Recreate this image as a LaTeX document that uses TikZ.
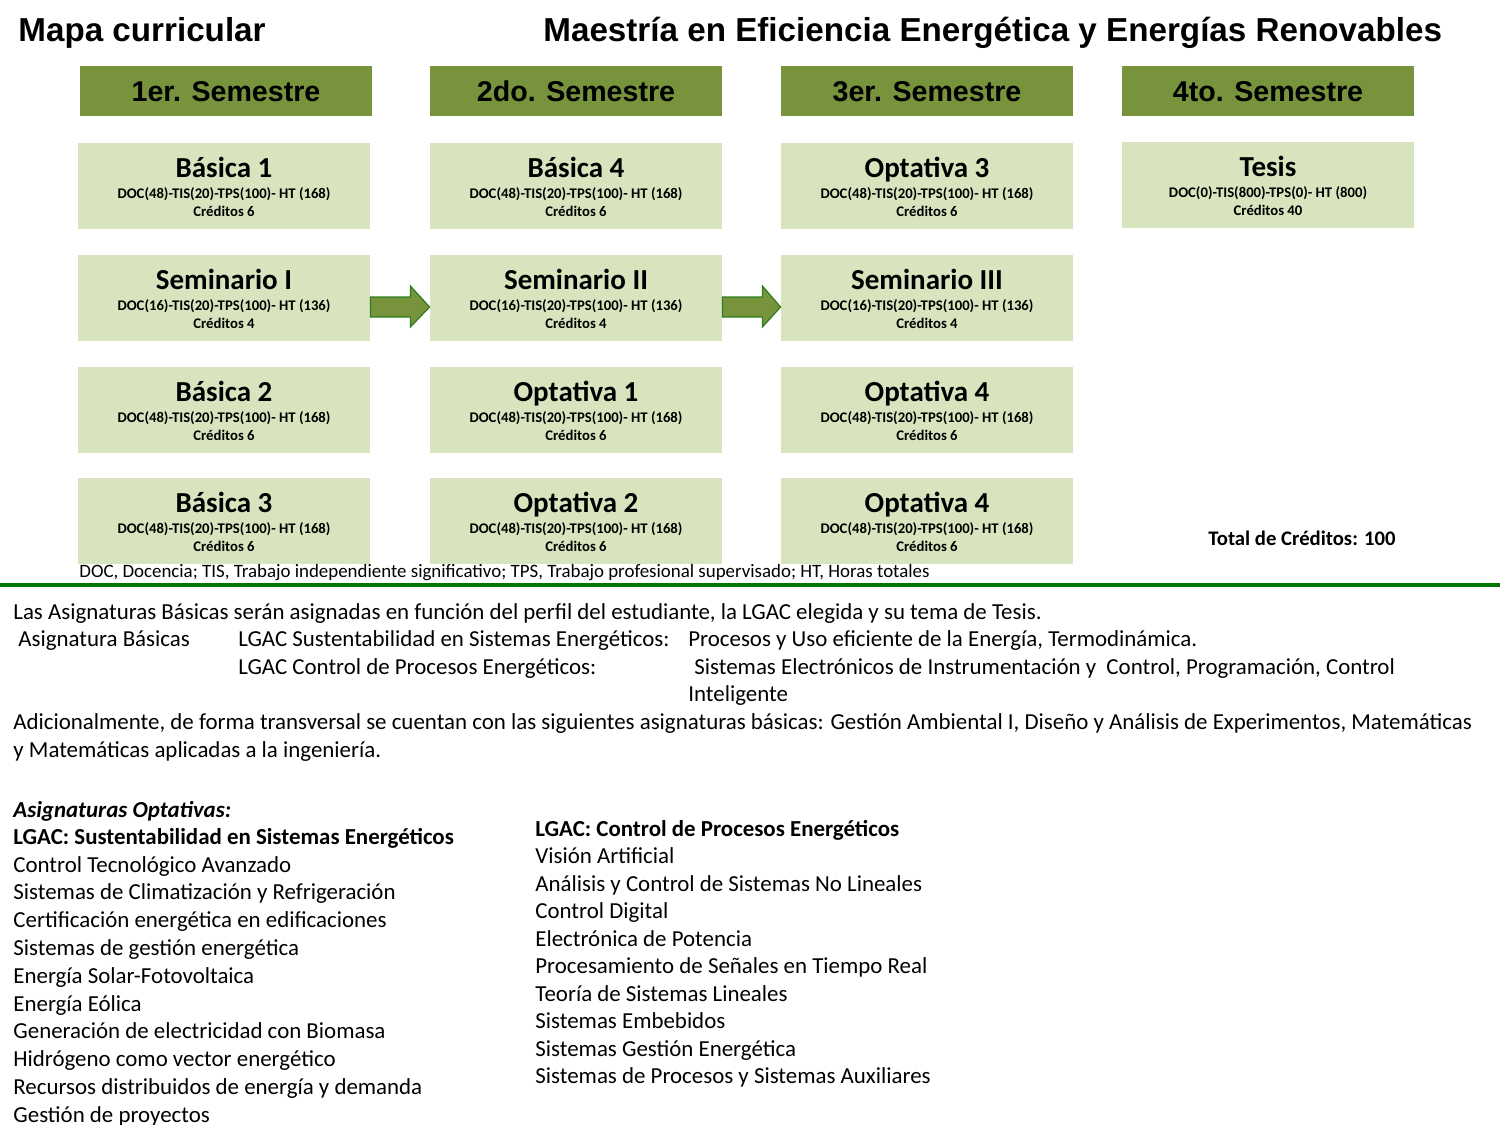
\documentclass[tikz,border=0pt]{standalone}
\usepackage{fontspec}
\setmainfont{Carlito}
\newfontfamily\arialfont{Liberation Sans}
\usepackage{tikz}
\usetikzlibrary{calc}
\usepackage{xcolor}

\definecolor{verdeolivo}{RGB}{119,147,60}
\definecolor{verdeclaro}{RGB}{215,228,189}
\definecolor{verdeborde}{RGB}{46,125,30}
\definecolor{verdelinea}{RGB}{0,118,0}

\tikzset{
  encabezado/.style={fill=verdeolivo, inner sep=0pt, minimum width=146pt, minimum height=25pt,
    text height=10pt, text depth=0pt, font=\arialfont\bfseries\fontsize{14.3pt}{16pt}\selectfont},
  cursobox/.style={fill=verdeclaro, inner sep=0pt, minimum width=146pt, minimum height=43pt},
  cursotitulo/.style={anchor=base, inner sep=0pt, font=\bfseries\fontsize{14.5pt}{16pt}\selectfont},
  cursohoras/.style={anchor=base, inner sep=0pt, font=\bfseries\fontsize{7.35pt}{8.5pt}\selectfont},
  texto/.style={anchor=base west, inner sep=0pt, font=\fontsize{11.45pt}{13.5pt}\selectfont},
  negrita/.style={texto, font=\bfseries\fontsize{11.45pt}{13.5pt}\selectfont},
  titulo/.style={anchor=base west, inner sep=0pt, font=\arialfont\bfseries\fontsize{16.6pt}{19pt}\selectfont},
  flecha/.style={fill=verdeolivo, draw=verdeborde, line width=0.6pt, line join=miter}
}

% name, center, title, hours, credits
\newcommand{\curso}[5]{%
  \node[cursobox] (#1) at (#2) {};
  \node[cursotitulo] (#1-t) at ($(#1.north)+(0,35)$) {#3};
  \node[cursohoras] (#1-h) at ($(#1.north)+(0,56)$) {#4};
  \node[cursohoras] (#1-c) at ($(#1.north)+(0,74)$) {Créditos #5};
}

\begin{document}
\begin{tikzpicture}[x=0.5pt,y=0.5pt,yscale=-1,xscale=1]
\useasboundingbox (0,0) rectangle (1500,1125);

% Titles
\node[titulo] (mapa) at (18,41.7) {Mapa curricular};
\node[titulo] (maestria) at (543,41.7) {Maestría en Eficiencia Energética y Energías Renovables};

% Semester headers
\node[encabezado] (sem1) at (226,91) {1er. Semestre};
\node[encabezado] (sem2) at (576,91) {2do. Semestre};
\node[encabezado] (sem3) at (927,91) {3er. Semestre};
\node[encabezado] (sem4) at (1268,91) {4to. Semestre};

% 1er. Semestre
\curso{b1}{224,186}{Básica 1}{DOC(48)-TIS(20)-TPS(100)- HT (168)}{6}
\curso{s1}{224,298}{Seminario I}{DOC(16)-TIS(20)-TPS(100)- HT (136)}{4}
\curso{b2}{224,410}{Básica 2}{DOC(48)-TIS(20)-TPS(100)- HT (168)}{6}
\curso{b3}{224,520.5}{Básica 3}{DOC(48)-TIS(20)-TPS(100)- HT (168)}{6}
% 2do. Semestre
\curso{b4}{576,186}{Básica 4}{DOC(48)-TIS(20)-TPS(100)- HT (168)}{6}
\curso{s2}{576,298}{Seminario II}{DOC(16)-TIS(20)-TPS(100)- HT (136)}{4}
\curso{o1}{576,410}{Optativa 1}{DOC(48)-TIS(20)-TPS(100)- HT (168)}{6}
\curso{o2}{576,520.5}{Optativa 2}{DOC(48)-TIS(20)-TPS(100)- HT (168)}{6}
% 3er. Semestre
\curso{o3}{927,186}{Optativa 3}{DOC(48)-TIS(20)-TPS(100)- HT (168)}{6}
\curso{s3}{927,298}{Seminario III}{DOC(16)-TIS(20)-TPS(100)- HT (136)}{4}
\curso{o4}{927,410}{Optativa 4}{DOC(48)-TIS(20)-TPS(100)- HT (168)}{6}
\curso{o5}{927,520.5}{Optativa 4}{DOC(48)-TIS(20)-TPS(100)- HT (168)}{6}
% 4to. Semestre
\curso{tesis}{1268,185}{Tesis}{DOC(0)-TIS(800)-TPS(0)- HT (800)}{40}

% Block arrows between seminars
\draw[flecha] ($(s1.east)+(0,-1)$) -- ($(s1.east)+(40,-1)$) -- ($(s1.east)+(40,-12)$) -- ($(s2.west)+(0,9)$)
  -- ($(s1.east)+(40,29)$) -- ($(s1.east)+(40,19)$) -- ($(s1.east)+(0,19)$) -- cycle;
\draw[flecha] ($(s2.east)+(0,-1)$) -- ($(s2.east)+(40,-1)$) -- ($(s2.east)+(40,-12)$) -- ($(s3.west)+(0,9)$)
  -- ($(s2.east)+(40,29)$) -- ($(s2.east)+(40,19)$) -- ($(s2.east)+(0,19)$) -- cycle;

% Total
\node[texto, font=\bfseries\fontsize{10.35pt}{12.5pt}\selectfont] (total) at (1208,545) {Total de Créditos: 100};

% Footnote
\node[texto, font=\fontsize{9.45pt}{11pt}\selectfont] (nota) at (79,577) {DOC, Docencia; TIS, Trabajo independiente significativo; TPS, Trabajo profesional supervisado; HT, Horas totales};

% Separator
\draw[verdelinea, line width=2pt] (0,584.5) -- (1500,584.5);

% Text block
\node[texto] (l1) at (13,619) {Las Asignaturas Básicas serán asignadas en función del perfil del estudiante, la LGAC elegida y su tema de Tesis.};
\node[texto] (l2a) at (18,646.7) {Asignatura Básicas};
\node[texto] (l2b) at (238,646.7) {LGAC Sustentabilidad en Sistemas Energéticos:};
\node[texto] (l2c) at (688,646.7) {Procesos y Uso eficiente de la Energía, Termodinámica.};
\node[texto] (l3b) at (238,674.3) {LGAC Control de Procesos Energéticos:};
\node[texto] (l3c) at (694,674.3) {Sistemas Electrónicos de Instrumentación y\ \ Control, Programación, Control};
\node[texto] (l4c) at (688,701.9) {Inteligente};
\node[texto] (l5) at (13,729.5) {Adicionalmente, de forma transversal se cuentan con las siguientes asignaturas básicas: Gestión Ambiental I, Diseño y Análisis de Experimentos, Matemáticas};
\node[texto] (l6) at (13,757.1) {y Matemáticas aplicadas a la ingeniería.};

% Optativas, LGAC 1
\node[texto, font=\bfseries\itshape\fontsize{11.45pt}{13.5pt}\selectfont] (opt) at (13,817) {Asignaturas Optativas:};
\node[negrita] (lgac1) at (13,844.4) {LGAC: Sustentabilidad en Sistemas Energéticos};
\foreach \txt [count=\i from 0] in {Control Tecnológico Avanzado, Sistemas de Climatización y Refrigeración,
  Certificación energética en edificaciones, Sistemas de gestión energética, Energía Solar-Fotovoltaica,
  Energía Eólica, Generación de electricidad con Biomasa, Hidrógeno como vector energético,
  Recursos distribuidos de energía y demanda, Gestión de proyectos}
  \node[texto] (lg1-\i) at (13,{872+27.8*\i}) {\txt};

% Optativas, LGAC 2
\node[negrita] (lgac2) at (535,836) {LGAC: Control de Procesos Energéticos};
\foreach \txt [count=\i from 0] in {Visión Artificial, Análisis y Control de Sistemas No Lineales, Control Digital,
  Electrónica de Potencia, Procesamiento de Señales en Tiempo Real, Teoría de Sistemas Lineales,
  Sistemas Embebidos, Sistemas Gestión Energética, Sistemas de Procesos y Sistemas Auxiliares}
  \node[texto] (lg2-\i) at (535,{863.5+27.5*\i}) {\txt};

\end{tikzpicture}
\end{document}
